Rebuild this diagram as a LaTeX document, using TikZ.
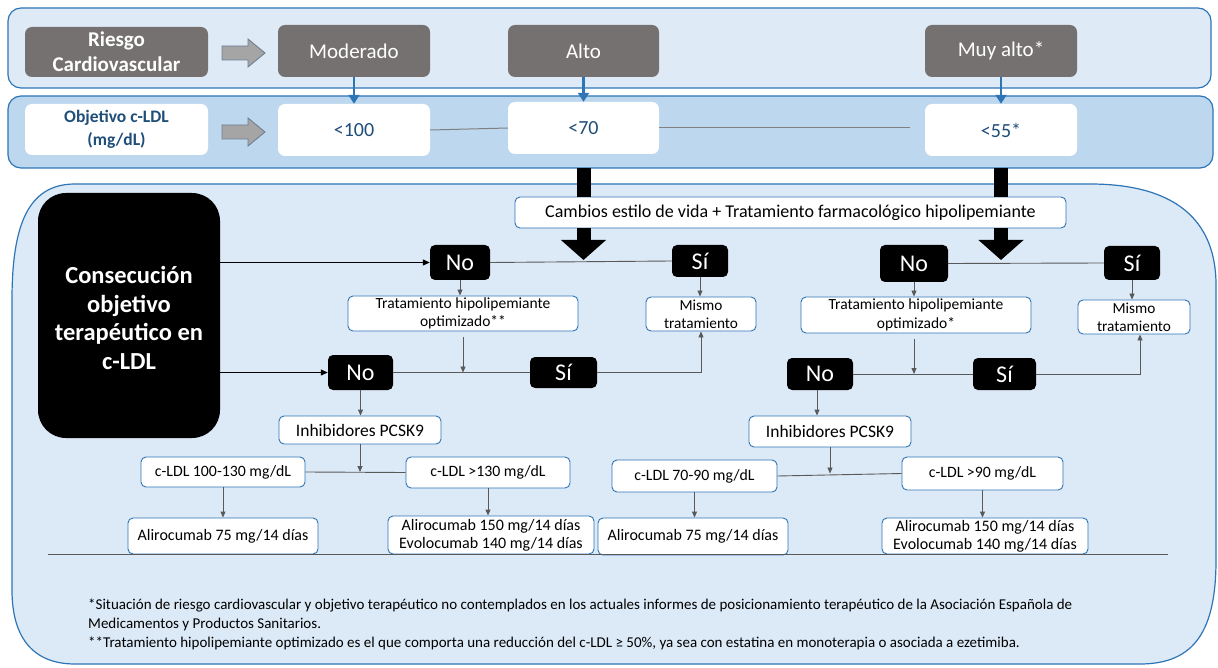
\documentclass[tikz,border=0pt]{standalone}
\usepackage{fontspec}
\setmainfont{Carlito}
\usetikzlibrary{arrows.meta}
\definecolor{bandA}{HTML}{DEEBF7}
\definecolor{bandB}{HTML}{BDD7EE}
\definecolor{panel}{HTML}{DCE9F6}
\definecolor{bord}{HTML}{2E75B6}
\definecolor{gbox}{HTML}{767171}
\definecolor{dblue}{HTML}{1F4E79}
\definecolor{conn}{HTML}{595959}
\definecolor{garrow}{HTML}{A5A5A5}
\definecolor{garrowb}{HTML}{6F7F92}
\newcommand{\fs}[1]{\fontsize{#1pt}{1.18\dimexpr#1pt\relax}\selectfont}
\tikzset{
  graybox/.style={fill=gbox, rounded corners=7pt, text=white, align=center, inner sep=1pt},
  whitebox/.style={fill=white, rounded corners=7pt, text=dblue, align=center, inner sep=1pt},
  wbox/.style={draw=bord, fill=white, rounded corners=5pt, line width=0.9pt, align=center, inner sep=1pt},
  blkbox/.style={fill=black, rounded corners=5pt, text=white, align=center, inner sep=1pt, font=\fs{24}},
  gconn/.style={draw=conn, line width=0.9pt},
  garr/.style={draw=conn, line width=0.9pt, -{Triangle[length=6pt,width=5pt]}},
  karr/.style={draw=black, line width=1.1pt, -{Triangle[length=7pt,width=6pt]}},
  barr/.style={draw=bord, line width=2.8pt, -{Triangle[length=9pt,width=11pt]}},
  bigarr/.style={draw=black, line width=14pt, -{Triangle[length=20pt,width=44pt]}},
  bigbar/.style={draw=black, line width=14pt},
}
\begin{document}
\begin{tikzpicture}[x=1pt,y=-1pt]
\useasboundingbox (0,0) rectangle (1218,668);
% backgrounds
\draw[fill=bandA, draw=bord, line width=1.2pt, rounded corners=13pt] (8,8) rectangle (1211,88);
\draw[fill=bandB, draw=bord, line width=1.2pt, rounded corners=13pt] (8,96) rectangle (1213,168);
\draw[fill=panel, draw=bord, line width=1.2pt]
  (12,300) .. controls (12,225) and (28,184) .. (75,184) -- (1090,184)
  .. controls (1175,184) and (1216,220) .. (1216,285) -- (1216,560)
  .. controls (1216,630) and (1195,664) .. (1140,664) -- (75,664)
  .. controls (35,664) and (12,640) .. (12,590) -- cycle;
% block arrows
\foreach \yy in {53,132}{
  \draw[fill=garrow, draw=garrowb, line width=0.9pt]
    (222,\yy-7) -- (248,\yy-7) -- (248,\yy-14) -- (265,\yy) -- (248,\yy+14) -- (248,\yy+7) -- (222,\yy+7) -- cycle;
}
% top rows
\node[graybox, minimum width=183pt, minimum height=50pt, font=\fontsize{21pt}{25pt}\selectfont\bfseries] (riesgo) at (116.5,52) {Riesgo\\Cardiovascular};
\node[graybox, minimum width=152pt, minimum height=52pt, font=\fs{21}] (mod) at (354,51) {Moderado};
\node[graybox, minimum width=151pt, minimum height=52pt, font=\fs{21}] (alto) at (583.5,51) {Alto};
\node[graybox, minimum width=152pt, minimum height=52pt, font=\fs{21}] (muy) at (1001,51) {Muy alto*};
\node[whitebox, minimum width=183pt, minimum height=51pt, font=\fontsize{17.5pt}{22.5pt}\selectfont\bfseries] (obj) at (116.5,129.5) {Objetivo c-LDL\\(mg/dL)};
\node[whitebox, minimum width=152pt, minimum height=52pt, font=\fs{20}] (v100) at (354,130) {<100};
\node[whitebox, minimum width=151pt, minimum height=52pt, font=\fs{20}] (v70) at (583.5,128) {<70};
\node[whitebox, minimum width=152pt, minimum height=52pt, font=\fs{20}] (v55) at (1001,130) {<55*};
\coordinate (e55) at (910,128);
\draw[draw=gray, line width=1pt] (v100.east) -- (v70.west);
\draw[draw=gray, line width=1pt] (v70.east) -- (e55);
\draw[barr] (mod.south) -- (v100.north);
\draw[barr] (alto.south) -- (alto.south |- v70.north);
\draw[barr] (muy.south) -- (v55.north);
% cambios
\node[wbox, minimum width=551pt, minimum height=31pt, font=\fs{18}] (camb) at (790.5,212.5) {Cambios estilo de vida + Tratamiento farmacológico hipolipemiante};
\coordinate (b1) at (583.5,168);
\coordinate (b2) at (1001,168);
\coordinate (h1) at (583.5,260);
\coordinate (h2) at (1001,260);
\draw[bigbar] (b1) -- (b1 |- camb.north);
\draw[bigbar] (b2) -- (b2 |- camb.north);
\draw[bigarr] (b1 |- camb.south) -- (h1);
\draw[bigarr] (b2 |- camb.south) -- (h2);
% consecucion
\node[fill=black, rounded corners=28pt, minimum width=182pt, minimum height=245pt, text=white, align=center, font=\fontsize{24.5pt}{28.5pt}\selectfont\bfseries] (cons) at (129,315.5) {\\[-6pt]Consecución\\objetivo\\terapéutico en\\c-LDL};
% left flow
\node[blkbox, minimum width=60pt, minimum height=35pt] (no1) at (460,262.5) {No};
\node[blkbox, minimum width=56pt, minimum height=32pt] (si1) at (700,261) {Sí};
\node[wbox, minimum width=230pt, minimum height=35pt, font=\fontsize{15.5pt}{18.3pt}\selectfont] (t1) at (463,313.5) {Tratamiento hipolipemiante\\optimizado**};
\node[wbox, minimum width=110pt, minimum height=34pt, font=\fontsize{15.3pt}{18.3pt}\selectfont] (m1) at (701,314) {Mismo\\tratamiento};
\node[blkbox, minimum width=65pt, minimum height=35pt] (no2) at (360.5,372.5) {No};
\node[blkbox, minimum width=67pt, minimum height=31pt] (si2) at (563.5,372.5) {Sí};
\node[wbox, minimum width=162pt, minimum height=28pt, font=\fs{17.5}] (inh1) at (360,430) {Inhibidores PCSK9};
\node[wbox, minimum width=164pt, minimum height=30pt, font=\fs{15.8}] (c1) at (223,472) {c-LDL 100-130 mg/dL};
\node[wbox, minimum width=164pt, minimum height=31pt, font=\fs{15.8}] (c2) at (488,472.5) {c-LDL >130 mg/dL};
\node[wbox, minimum width=190pt, minimum height=36pt, font=\fs{16}] (a1) at (223,536) {Alirocumab 75 mg/14 días};
\node[wbox, minimum width=206pt, minimum height=38pt, font=\fontsize{16pt}{18.3pt}\selectfont] (a2) at (491,535) {Alirocumab 150 mg/14 días\\Evolocumab 140 mg/14 días};
% right flow
\node[blkbox, minimum width=68pt, minimum height=37pt] (no3) at (914,263.5) {No};
\node[blkbox, minimum width=56pt, minimum height=34pt] (si3) at (1132,263) {Sí};
\node[wbox, minimum width=230pt, minimum height=36pt, font=\fontsize{15.5pt}{18.3pt}\selectfont] (t2) at (916,315) {Tratamiento hipolipemiante\\optimizado*};
\node[wbox, minimum width=112pt, minimum height=34pt, font=\fontsize{15.3pt}{18.3pt}\selectfont] (m2) at (1134,317) {Mismo\\tratamiento};
\node[blkbox, minimum width=66pt, minimum height=32pt] (no4) at (820,374) {No};
\node[blkbox, minimum width=63pt, minimum height=32pt] (si4) at (1004.5,374) {Sí};
\node[wbox, minimum width=162pt, minimum height=31pt, font=\fs{17.5}] (inh2) at (830,431.5) {Inhibidores PCSK9};
\node[wbox, minimum width=165pt, minimum height=32pt, font=\fs{15.8}] (c3) at (694.5,476) {c-LDL 70-90 mg/dL};
\node[wbox, minimum width=161pt, minimum height=33pt, font=\fs{15.8}] (c4) at (982.5,473.5) {c-LDL >90 mg/dL};
\node[wbox, minimum width=190pt, minimum height=37pt, font=\fs{16}] (a3) at (693,536.5) {Alirocumab 75 mg/14 días};
\node[wbox, minimum width=206pt, minimum height=36pt, font=\fontsize{16pt}{18.3pt}\selectfont] (a4) at (985,536) {Alirocumab 150 mg/14 días\\Evolocumab 140 mg/14 días};
% connectors from consecucion
\draw[karr] (cons.east |- no1.west) -- (no1.west);
\draw[karr] (cons.east |- no2.west) -- (no2.west);
% left connectors
\draw[gconn] (no1.east) -- (si1.west);
\draw[garr] (no1.south) -- (no1.south |- t1.north);
\draw[garr] (si1.south) -- (si1.south |- m1.north);
\draw[gconn] (no2.east) -- (si2.west);
\draw[garr] ([yshift=-6pt]t1.south) -- (t1.south |- no2.east);
\draw[garr] (si2.east) -| (m1.south);
\draw[garr] (no2.south) -- (no2.south |- inh1.north);
\draw[gconn] (c1.east) -- (c2.west);
\draw[garr] (inh1.south) -- (inh1.south |- c1.east);
\draw[garr] (c1.south) -- (a1.north);
\draw[garr] (c2.south) -- (c2.south |- a2.north);
% right connectors
\draw[gconn] (no3.east) -- (si3.west);
\draw[garr] (no3.south) -- (no3.south |- t2.north);
\draw[garr] (si3.south) -- (si3.south |- m2.north);
\draw[gconn] (no4.east) -- (si4.west);
\draw[garr] ([xshift=-2pt,yshift=-6pt]t2.south) -- ([xshift=-2pt]t2.south |- no4.east);
\draw[garr] (si4.east) -| ([xshift=6pt]m2.south);
\draw[garr] ([xshift=-3pt]no4.south) -- ([xshift=-3pt]no4.south |- inh2.north);
\draw[gconn] (c3.east) -- (c4.west);
\draw[garr] (inh2.south) -- (inh2.south |- c4.west);
\draw[garr] (c3.south) -- (c3.south |- a3.north);
\draw[garr] (c4.south) -- (c4.south |- a4.north);
% rule
\coordinate (r1) at (48,554);
\coordinate (r2) at (1168,554);
\draw[draw=conn, line width=0.8pt] (r1) -- (r2);
% footnotes
\node[anchor=north west, align=left, inner sep=0pt, font=\fontsize{15pt}{19pt}\selectfont] (fn) at (88,599) {*Situación de riesgo cardiovascular y objetivo terapéutico no contemplados en los actuales informes de posicionamiento terapéutico de la Asociación Española de\\Medicamentos y Productos Sanitarios.\\**Tratamiento hipolipemiante optimizado es el que comporta una reducción del c-LDL ≥ 50\%, ya sea con estatina en monoterapia o asociada a ezetimiba.};
\end{tikzpicture}
\end{document}
